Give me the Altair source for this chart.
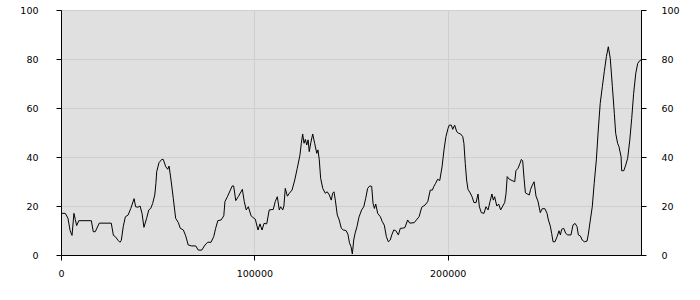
import altair as alt
import pandas as pd

x_vals = [
    0, 2200, 3600, 4700, 5700, 6700, 7400, 8100, 9200, 15700, 16700, 17700, 19800, 26000,
    27100, 28100, 29500, 30500, 31200, 32200, 33300, 34700, 36100, 37800, 38600, 39800,
    40900, 41900, 42900, 44300, 45400, 46400, 47400, 48500, 49100, 49500, 50700, 52100,
    52900, 54200, 55200, 55900, 56900, 58100, 59300, 60700, 61700, 63300, 64500, 65800,
    67600, 69700, 71000, 72800, 74500, 75900, 77600, 79000, 80000, 81100, 82800, 84200,
    84800, 86200, 87600, 88600, 89300, 90400, 91700, 93800, 94800, 95800, 96900, 98300,
    99200, 100500, 101900, 102900, 104000, 105000, 106400, 107700, 109800, 110800, 111900,
    112900, 113600, 114700, 115300, 116000, 117100, 118100, 119500, 120900, 122200, 123600,
    124300, 125000, 125700, 126400, 127100, 127800, 128400, 129200, 130200, 131200, 132300,
    132900, 133600, 134300, 135400, 136700, 137700, 138800, 139800, 140500, 141200, 141900,
    142900, 143900, 145000, 146000, 147400, 148400, 149200, 150000, 150700, 151400, 152100,
    153100, 154100, 155500, 156600, 157600, 158600, 159700, 160700, 161400, 162100, 162800,
    163800, 165200, 166200, 167200, 168300, 169300, 170300, 171100, 172100, 173100, 174500,
    175500, 176500, 177900, 179300, 180400, 182700, 183800, 185200, 186600, 188300, 189700,
    191000, 192100, 192800, 193800, 194800, 195900, 197100, 198100, 199100, 200200, 200800,
    201900, 202600, 203600, 204700, 205700, 206700, 207800, 208400, 209100, 209800, 210500,
    211600, 212600, 213600, 214700, 215700, 216400, 217400, 218800, 219800, 220900, 221900,
    222900, 223600, 224300, 225400, 226400, 227400, 228500, 229500, 230200, 230800, 231900,
    233300, 234700, 235300, 236400, 237400, 238100, 238800, 239500, 240200, 241200, 242200,
    242900, 243600, 244700, 245700, 246700, 247900, 248900, 250300, 251400, 252100, 253100,
    253800, 254500, 255500, 256600, 257600, 258300, 259000, 260000, 261100, 262100, 263800,
    264800, 265900, 266900, 267600, 268600, 269600, 270700, 272100, 272700, 273800, 274800,
    275800, 276900, 277900, 278900, 280000, 281000, 282100, 283100, 284100, 285200, 286200,
    286900, 287900, 288600, 289700, 290000, 291100, 292100, 293100, 294200, 295200, 296200,
    297300, 298300, 299300, 300000,
]

y_vals = [
    17, 17, 15, 10, 8, 17, 14.5, 12, 14, 14, 9.5, 9.5, 13, 13,
    8, 7.5, 6, 5.2, 6, 11.6, 15.6, 16.3, 19, 23, 19.7, 19.5,
    20, 17, 11.3, 15, 18.4, 19, 21, 24.5, 29.3, 34, 37.7, 39,
    39, 36, 35, 36.3, 30.6, 23, 15, 13.2, 10.9, 10.2, 7.8, 4.1,
    3.7, 3.7, 2, 2, 4.1, 5.2, 5.2, 7.5, 10.9, 14, 14.3, 16,
    21.8, 24, 26.5, 28.2, 28.2, 22.2, 23.8, 26.8, 21.8, 18.4, 19.7, 16,
    15.4, 14.6, 10.2, 12.7, 10.2, 12.9, 12.7, 18.4, 18.6, 21.8, 23.8,
    18.4, 19.7, 18.4, 20, 27.2, 24, 25.2, 26.5, 30.6, 35.4, 40.8,
    45.6, 49.4, 45.6, 47.2, 44.9, 47, 42.2, 45.8, 49.4, 45.6, 41.5,
    42.9, 38.8, 31.3, 27.2, 25.2, 25.8, 24.5, 22.4, 25.2, 25.8, 22.4,
    16.3, 14.3, 10.9, 10.2, 10, 8.5, 5, 3.4, 0.4, 6.1, 8.8,
    11.6, 15.4, 18.4, 19.7, 23.1, 27.2, 28.2, 28, 21.1, 19, 20.8,
    17, 15.6, 13.6, 12.2, 7.5, 5.4, 6.1, 8.2, 10.2, 10, 8.2,
    10.9, 10.9, 11.2, 14.3, 13, 13.2, 14.3, 15.6, 19.5, 20.4, 21.8,
    26.5, 26.5, 27.9, 29.3, 30.9, 30.4, 36, 42.9, 48.3, 51.7, 53,
    53, 51.3, 53, 50.3, 49.7, 49.4, 48.3, 45.6, 37.4, 30.6, 26.8,
    25.4, 23.8, 21.4, 21.4, 24.9, 19.7, 17.3, 17, 19.7, 18.4, 21.8,
    24.9, 22.4, 23.8, 20, 20.8, 18.4, 20, 21.4, 25.2, 32, 30.9,
    30.4, 29.9, 34.4, 35.4, 37.4, 39, 38.5, 31.3, 25.4, 24.9, 24.5,
    26.8, 28.2, 29.9, 24, 22, 17.3, 18.9, 18.9, 17, 14.3, 11.8,
    8.8, 5.4, 5.4, 7.5, 9.9, 8.2, 10.5, 10.9, 8.8, 8.2, 8.2,
    12.2, 12.9, 11.6, 8.2, 7.8, 6.1, 5.4, 5.7, 8.2, 14.3, 19.7,
    29.3, 38.8, 51, 61.9, 68.7, 74.8, 81, 85, 80.3, 68.7, 57.8,
    49.7, 45.6, 44.2, 40.1, 34.4, 34.4, 36.7, 39.5, 46.9, 55.8, 66,
    74.2, 78.2, 79.3, 79.6,
]

x_ticks = [0, 100000, 200000]
y_ticks = [0, 20, 40, 60, 80, 100]

df = pd.DataFrame({"x": x_vals, "y": y_vals})

FONT = "DejaVu Sans"

x_enc = alt.X(
    "x:Q",
    scale=alt.Scale(domain=[0, 300000], nice=False, zero=False),
    axis=alt.Axis(
        values=x_ticks, format="d", title=None, grid=True, gridColor="#cfcfcf",
        domainColor="black", tickColor="black", tickSize=5, labelPadding=8,
        labelFlush=False,
        labelFont=FONT, labelFontSize=9.5, labelColor="black",
    ),
)

y_scale = alt.Scale(domain=[0, 100], nice=False)

left = alt.Chart(df).mark_line(color="black", strokeWidth=1, interpolate="linear").encode(
    x=x_enc,
    y=alt.Y(
        "y:Q", scale=y_scale,
        axis=alt.Axis(
            orient="left", values=y_ticks, title=None, grid=True, gridColor="#cfcfcf",
            domainColor="black", tickColor="black", tickSize=5, labelPadding=18,
            labelFont=FONT, labelFontSize=9.5, labelColor="black",
        ),
    ),
)

right = alt.Chart(df).mark_line(strokeOpacity=0).encode(
    x=x_enc,
    y=alt.Y(
        "y:Q", scale=y_scale,
        axis=alt.Axis(
            orient="right", values=y_ticks, title=None, grid=False,
            domainColor="black", tickColor="black", tickSize=5, labelPadding=15,
            labelFont=FONT, labelFontSize=9.5, labelColor="black",
        ),
    ),
)

chart = (
    alt.layer(left, right)
    .resolve_axis(y="independent")
    .properties(
        width=580, height=245,
        autosize=alt.AutoSizeParams(type="none"),
        padding={"left": 61, "top": 10, "right": 59, "bottom": 45},
        background="white",
    )
    .configure_view(stroke="black", strokeWidth=1, fill="#e0e0e0")
)

chart.save("out.html", embed_options={"renderer": "svg", "actions": False})
